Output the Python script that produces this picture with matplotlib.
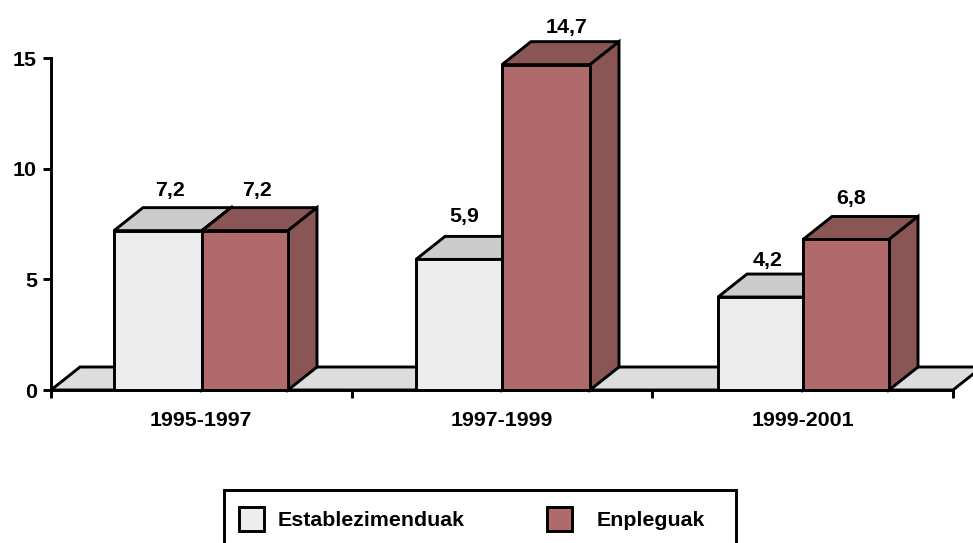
'''3D style bar chart, establishments and jobs'''

import matplotlib
matplotlib.use('Agg')
import matplotlib.pyplot as plt
from matplotlib.patches import Polygon, Rectangle

periods = ['1995-1997', '1997-1999', '1999-2001']
establezimenduak = [7.2, 5.9, 4.2]
enpleguak = [7.2, 14.7, 6.8]
value_labels_est = ['7,2', '5,9', '4,2']
value_labels_enp = ['7,2', '14,7', '6,8']
y_ticks = [0, 5, 10, 15]

W, H = 973, 543
FONT = 'Liberation Sans'
FS = 15.4
LW = 2.1
BLACK = '#000000'
EST_FRONT = '#EDEDED'
EST_SHADE = '#CCCCCC'
ENP_FRONT = '#B06A6C'
ENP_SHADE = '#8A5555'
FLOOR = '#DDDDDD'

# axes box in pixels, from the top left corner of the picture
LEFT, RIGHT, TOP, BOTTOM = 51, 953, 58, 390
PX_X = (RIGHT - LEFT) / 3
PX_Y = (BOTTOM - TOP) / 15
# depth of the fake 3D effect, in data units
DX = 29 / PX_X
DY = 23 / PX_Y
# bar edges of each group in pixels: left, middle, right
GROUP_EDGES = [(114, 202, 288), (416, 502, 590), (718, 803, 889)]
# label shifts in pixels, the source chart places them unevenly
NUDGE_EST = [(-2.5, -1), (-9.5, 2), (-7, -4)]
NUDGE_ENP = [(-2.5, -1), (6.5, -4), (-9.5, 0)]


def add_face(ax, points, color, zorder):
    '''one closed side of a bar, not clipped by the axes'''
    ax.add_patch(Polygon(points, closed=True, facecolor=color, edgecolor=BLACK,
                         linewidth=LW, joinstyle='miter', clip_on=False, zorder=zorder))


def draw_bar(ax, left, right, value, front, shade, zorder):
    '''front from ax.bar, then the top and right faces'''
    add_face(ax, [(left, value), (right, value), (right + DX, value + DY),
                  (left + DX, value + DY)], shade, zorder)
    add_face(ax, [(right, 0), (right + DX, DY), (right + DX, value + DY),
                  (right, value)], shade, zorder)
    ax.bar(left, value, width=right - left, align='edge', color=front, edgecolor=BLACK,
           linewidth=LW, clip_on=False, zorder=zorder + 0.1)


def bar_label(ax, left, right, value, txt, nudge):
    '''value above the top face of the bar'''
    ax.annotate(txt, ((left + right) / 2 + DX / 2, value + DY),
                xytext=(nudge[0], 18 + nudge[1]), textcoords='offset pixels',
                ha='center', va='center', family=FONT, fontsize=FS, fontweight='bold',
                annotation_clip=False, zorder=20)


def main():
    '''entry point'''
    fig = plt.figure(figsize=(W / 100, H / 100), dpi=100)
    ax = fig.add_axes([LEFT / W, 1 - BOTTOM / H, (RIGHT - LEFT) / W, (BOTTOM - TOP) / H])
    ax.set_xlim(0, 3)
    ax.set_ylim(0, 15)
    ax.patch.set_visible(False)

    # floor
    add_face(ax, [(0, 0), (DX, DY), (3 + DX, DY), (3, 0)], FLOOR, 1)

    for i in range(len(periods)):
        x0, x1, x2 = [(px - LEFT) / PX_X for px in GROUP_EDGES[i]]
        draw_bar(ax, x0, x1, establezimenduak[i], EST_FRONT, EST_SHADE, 2 + i)
        draw_bar(ax, x1, x2, enpleguak[i], ENP_FRONT, ENP_SHADE, 2.5 + i)
        bar_label(ax, x0, x1, establezimenduak[i], value_labels_est[i], NUDGE_EST[i])
        bar_label(ax, x1, x2, enpleguak[i], value_labels_enp[i], NUDGE_ENP[i])

    for side in ('top', 'right'):
        ax.spines[side].set_visible(False)
    for side in ('left', 'bottom'):
        ax.spines[side].set_linewidth(LW)
        ax.spines[side].set_zorder(15)

    ax.set_yticks(y_ticks)
    ax.set_xticks(range(len(periods) + 1))
    ax.set_xticklabels([])
    ax.set_xticks([i + 0.5 for i in range(len(periods))], periods, minor=True)
    ax.tick_params(axis='x', which='major', length=6, width=LW)
    ax.tick_params(axis='x', which='minor', length=0, pad=15)
    ax.tick_params(axis='y', length=6, width=LW, pad=4)
    for label in ax.get_yticklabels() + ax.get_xticklabels(minor=True):
        label.set_family(FONT)
        label.set_fontsize(FS)
        label.set_fontweight('bold')

    # legend box runs off the bottom of the picture
    def px_rect(x0, y0, x1, y1, color):
        fig.add_artist(Rectangle((x0 / W, 1 - y1 / H), (x1 - x0) / W, (y1 - y0) / H,
                                 facecolor=color, edgecolor=BLACK, linewidth=LW,
                                 transform=fig.transFigure))
    px_rect(224, 490, 736, 560, 'white')
    px_rect(239, 507, 264, 531, EST_FRONT)
    px_rect(547, 507, 572, 531, ENP_FRONT)
    for x, name in ((278, 'Establezimenduak'), (597, 'Enpleguak')):
        fig.text(x / W, 1 - 521 / H, name, family=FONT, fontsize=FS, fontweight='bold',
                 ha='left', va='center')

    fig.savefig('out.png', dpi=100)


if __name__ == '__main__':
    main()
